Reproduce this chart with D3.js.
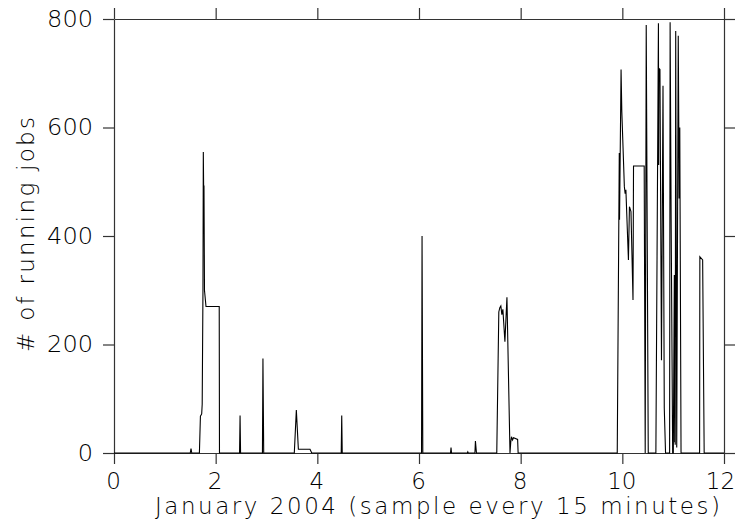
<!DOCTYPE html>
<html><head><meta charset="utf-8">
<script src="https://cdn.jsdelivr.net/npm/d3@7/dist/d3.min.js"></script>
<style>
html,body{margin:0;padding:0;background:#fff;}
text{font-family:"DejaVu Sans",sans-serif;font-weight:200;fill:#000;}
</style></head>
<body><svg id="c" width="736" height="523"></svg>
<script>
// Time (days into January 2004) and number of running jobs (breakpoints of the trace)
const days = [0,1.50,1.515,1.53,1.68,1.70,1.725,1.735,1.750,1.757,1.765,1.770,1.780,1.810,2.070,2.075,
 2.47,2.48,2.49,2.92,2.93,2.945,3.547,3.587,3.627,3.856,3.89,4.47,4.48,4.49,
 6.05,6.06,6.075,6.62,6.63,6.64,6.95,6.96,6.97,7.10,7.11,7.13,
 7.53,7.57,7.59,7.61,7.63,7.65,7.69,7.73,7.79,7.805,7.82,7.84,7.86,7.94,7.95,
 9.90,9.94,9.945,9.975,9.99,10.04,10.055,10.07,10.12,10.14,10.17,10.21,10.22,10.43,10.45,
 10.47,10.51,10.66,10.71,10.715,10.72,10.74,10.77,10.80,10.825,10.85,10.93,10.94,10.96,10.99,
 11.003,11.023,11.03,11.035,11.04,11.05,11.07,11.10,11.11,11.117,11.13,11.155,
 11.52,11.525,11.58,11.61,12];
const jobs = [0,0,8,0,0,68,72,90,300,555,470,493,300,270,270,0,
 0,69,0,0,174,0,0,79,7,7,0,0,69,0,
 0,400,0,0,10,0,0,2,0,0,22,0,
 0,260,268,271,255,265,205,287,0,20,30,24,28,25,0,
 0,553,430,707,629,491,478,485,356,454,445,282,529,529,0,
 789,0,0,792,531,709,707,171,677,83,0,0,794,433,0,
 0,328,20,300,15,778,10,769,611,469,600,0,
 0,362,356,0,0];
const xTicks = [0,2,4,6,8,10,12];
const yTicks = [0,200,400,600,800];
const xLabel = "January 2004 (sample every 15 minutes)";
const yLabel = "# of running jobs";

const svg = d3.select("#c");
const L=114, R=724, T=19, B=453;
const x = d3.scaleLinear().domain([0,12]).range([L,R]);
const y = d3.scaleLinear().domain([0,800]).range([B,T]);
const tick=11;

function styleAxis(g){
  g.selectAll("path,line").attr("stroke","#333").attr("stroke-width",1.2);
  g.selectAll("text").attr("font-size",23).attr("fill","#000");
}
svg.append("g").attr("transform",`translate(0,${B})`)
  .call(d3.axisBottom(x).tickValues(xTicks).tickSize(tick).tickSizeOuter(0).tickPadding(8).tickFormat(d3.format("d")))
  .call(styleAxis)
  .call(g=>g.selectAll("text").attr("dy","0.75em").attr("dx",d=>d===12?-4:-1));
svg.append("g").attr("transform",`translate(0,${T})`)
  .call(d3.axisTop(x).tickValues(xTicks).tickSize(tick).tickSizeOuter(0).tickFormat(""))
  .call(styleAxis);
svg.append("g").attr("transform",`translate(${L},0)`)
  .call(d3.axisLeft(y).tickValues(yTicks).tickSize(tick).tickSizeOuter(0).tickPadding(10).tickFormat(d3.format("d")))
  .call(styleAxis)
  .call(g=>g.selectAll("text").attr("textLength",d=>String(d).length*15.3).attr("lengthAdjust","spacingAndGlyphs"));
svg.append("g").attr("transform",`translate(${R},0)`)
  .call(d3.axisRight(y).tickValues(yTicks).tickSize(tick).tickSizeOuter(0).tickFormat(""))
  .call(styleAxis);

const pts = days.map((d,i)=>[d,jobs[i]]);
svg.append("path").datum(pts)
  .attr("fill","none").attr("stroke","#000").attr("stroke-width",1.1)
  .attr("d", d3.line().x(d=>x(d[0])).y(d=>y(d[1])));

svg.append("text").attr("x",155).attr("y",514).attr("font-size",23)
  .attr("textLength",565).attr("lengthAdjust","spacing").text(xLabel);
svg.append("text").attr("transform","translate(34,352) rotate(-90)").attr("font-size",23)
  .attr("textLength",235).attr("lengthAdjust","spacing").text(yLabel);
</script></body></html>
